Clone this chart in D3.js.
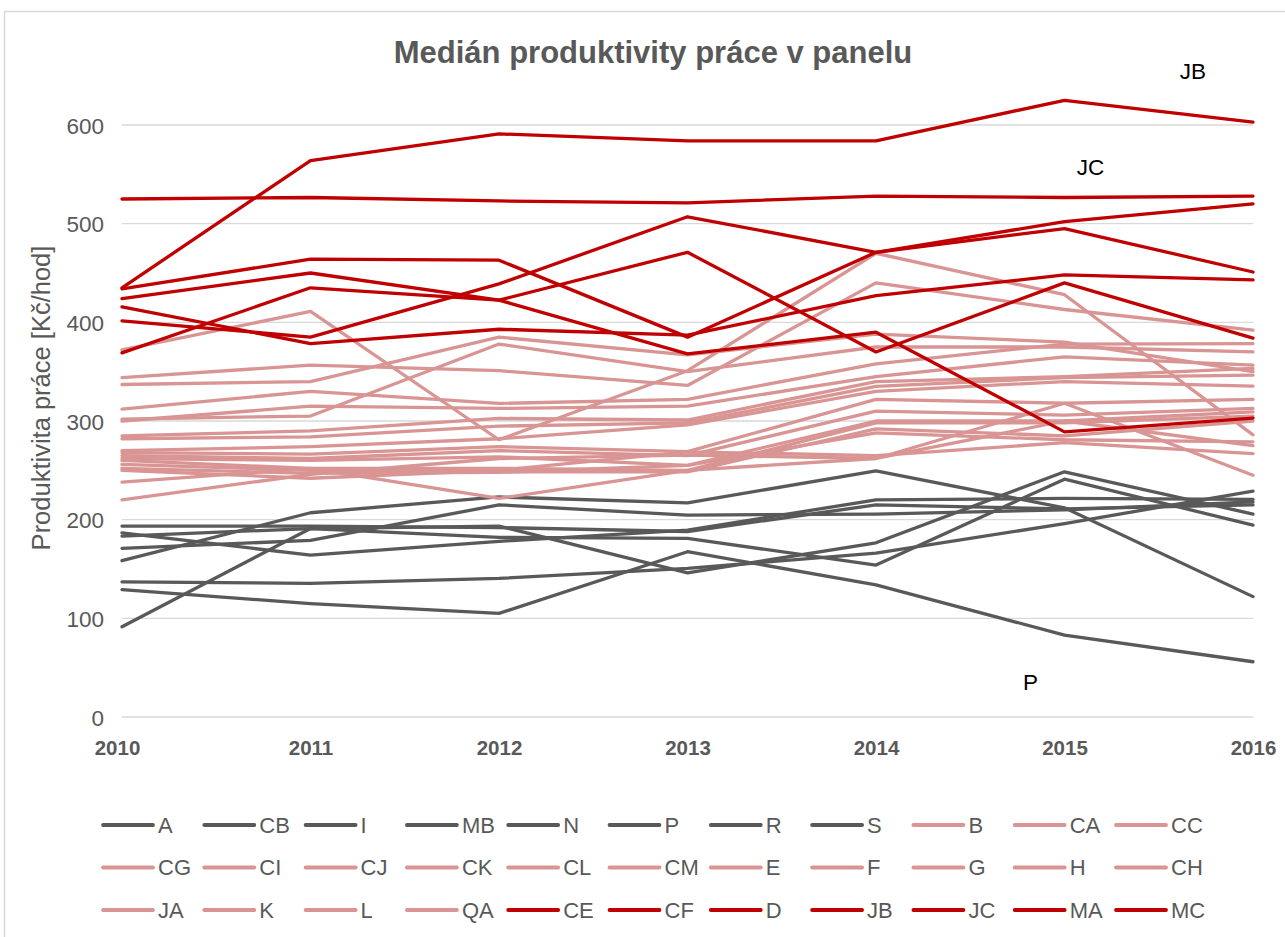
<!DOCTYPE html>
<html><head><meta charset="utf-8">
<script src="https://cdn.jsdelivr.net/npm/d3@7"></script>
<style>body{margin:0;background:#fff}svg{display:block}</style>
</head><body><svg id="c" width="1285" height="937"></svg>
<script>
const years = ["2010","2011","2012","2013","2014","2015","2016"];
const yTicks = [0,100,200,300,400,500,600];
const title = "Medián produktivity práce v panelu";
const yLabel = "Produktivita práce [Kč/hod]";

// gray group
const grayNames = ["A","CB","I","MB","N","P","R","S"];
const grayValues = [
  [137, 135.5, 140.5, 150.6, 166, 196, 229],
  [158.4, 207, 223, 217, 249.5, 212, 122],
  [193.5, 193.5, 192, 188, 215, 211, 215],
  [91.5, 191, 193.5, 146, 176.6, 248.5, 205.7],
  [186.7, 164, 178, 189.5, 220, 221.5, 220.5],
  [129, 115, 105, 167.5, 134, 83, 56],
  [183.4, 191, 182, 181, 154, 241, 194.5],
  [171, 179, 215, 204.6, 205.7, 210, 218]
];
// pink group
const pinkNames = ["B","CA","CC","CG","CI","CJ","CK","CL","CM","E","F","G","H","CH","JA","K","L","QA"];
const pinkValues = [
  [372, 411, 281, 351, 470, 428, 286],
  [344, 356.6, 351, 336, 440, 413, 392],
  [337, 340, 385, 367, 388, 380, 350],
  [312, 330, 317.8, 322, 358, 378, 378.5],
  [302, 305, 378, 350, 375, 375, 370],
  [300, 315, 312.7, 315, 345, 365, 356.6],
  [285, 290, 302.6, 301, 340, 345, 353.3],
  [282, 284, 294.8, 298, 335, 344, 346.5],
  [270, 274, 282, 296, 330, 340, 335.4],
  [268, 266.5, 274, 269, 322, 318, 321.9],
  [265, 262, 270, 265, 310, 306, 312.7],
  [262, 260, 263.7, 255, 300, 300, 309.3],
  [260, 252, 252, 250, 298, 298, 305],
  [256, 250, 248.5, 248.5, 292, 285, 300],
  [252, 246.9, 248, 255, 288, 281, 278.9],
  [250, 242, 250, 268.8, 265, 278, 267],
  [238, 252, 221.5, 250, 262, 318, 245],
  [220, 246, 262, 265.4, 262, 300, 275]
];
// red group
const redNames = ["CE","CF","D","JB","JC","MA","MC"];
const redValues = [
  [434, 464, 463, 385, 471, 495, 451],
  [424, 450, 422.5, 471, 370, 440, 384],
  [369, 435, 422.5, 368, 390, 289, 303],
  [435, 564, 591, 584, 584, 625, 603],
  [525, 526.5, 523, 521, 528, 526.5, 528],
  [415.7, 378.5, 393, 387, 427, 448, 443],
  [401.5, 385, 439, 507, 471, 502, 520]
];
const labels = [
  {text:"JB", year:"2016", value:647, dx:-60},
  {text:"JC", year:"2015", value:549, dx:26},
  {text:"P",  year:"2015", value:27, dx:-34}
];

const colors = {gray:"#595959", pink:"#d99594", red:"#c00000"};
const series = [];
grayNames.forEach((n,i)=>series.push({name:n, values:grayValues[i], color:colors.gray}));
pinkNames.forEach((n,i)=>series.push({name:n, values:pinkValues[i], color:colors.pink}));
redNames.forEach((n,i)=>series.push({name:n, values:redValues[i], color:colors.red}));

const svg = d3.select("#c");
const font = "'Liberation Sans', Arial, sans-serif";

svg.append("rect").attr("x",4.5).attr("y",11.5).attr("width",1290).attr("height",930)
  .attr("fill","#fff").attr("stroke","#d9d9d9").attr("stroke-width",1.5);

const x = d3.scalePoint().domain(years).range([122, 1253]);
const y = d3.scaleLinear().domain([0,600]).range([717,125]);

// gridlines
svg.append("g").selectAll("line").data(yTicks).join("line")
  .attr("x1",122).attr("x2",1253).attr("y1",d=>y(d)).attr("y2",d=>y(d))
  .attr("stroke","#d9d9d9").attr("stroke-width",1.3);

// y axis
const ya = svg.append("g").attr("transform","translate(104,0)")
  .call(d3.axisLeft(y).tickValues(yTicks).tickSize(0).tickPadding(0));
ya.select(".domain").remove();
ya.selectAll("text").attr("font-family",font).attr("font-size",22.5).attr("fill","#595959").attr("dy","0.36em");

// x axis
const xa = svg.append("g").attr("transform","translate(0,755)")
  .call(d3.axisBottom(x).tickSize(0).tickPadding(0));
xa.select(".domain").remove();
xa.selectAll("text").attr("font-family",font).attr("font-size",20.5).attr("font-weight","bold")
  .attr("fill","#595959").attr("y",0).attr("dy",0).attr("dx",d=>d==="2010"?-5:0);

// lines
const line = d3.line().x((d,i)=>x(years[i])).y(d=>y(d));
svg.append("g").selectAll("path").data(series).join("path")
  .attr("d",d=>line(d.values)).attr("fill","none").attr("stroke",d=>d.color)
  .attr("stroke-width",3.3).attr("stroke-linejoin","round").attr("stroke-linecap","round");

// annotations
svg.append("g").selectAll("text").data(labels).join("text")
  .attr("x",d=>x(d.year)+d.dx).attr("y",d=>y(d.value)).attr("text-anchor","middle")
  .attr("font-family",font).attr("font-size",22.5).attr("fill","#000").text(d=>d.text);

// title
svg.append("text").attr("x",653).attr("y",63).attr("text-anchor","middle")
  .attr("font-family",font).attr("font-size",31).attr("font-weight","bold").attr("fill","#595959").text(title);

// y label
svg.append("text").attr("transform","translate(50,398) rotate(-90)").attr("text-anchor","middle")
  .attr("font-family",font).attr("font-size",25.5).attr("fill","#595959").text(yLabel);

// legend
const leg = svg.append("g");
const items = leg.selectAll("g").data(series).join("g")
  .attr("transform",(d,i)=>`translate(${103 + (i%11)*101.3},${825 + Math.floor(i/11)*42.5})`);
items.append("line").attr("x1",0).attr("x2",50).attr("y1",0).attr("y2",0)
  .attr("stroke",d=>d.color).attr("stroke-width",3.8).attr("stroke-linecap","round");
items.append("text").attr("x",55).attr("y",0).attr("dy","0.36em")
  .attr("font-family",font).attr("font-size",22).attr("fill","#595959").text(d=>d.name);
</script></body></html>
